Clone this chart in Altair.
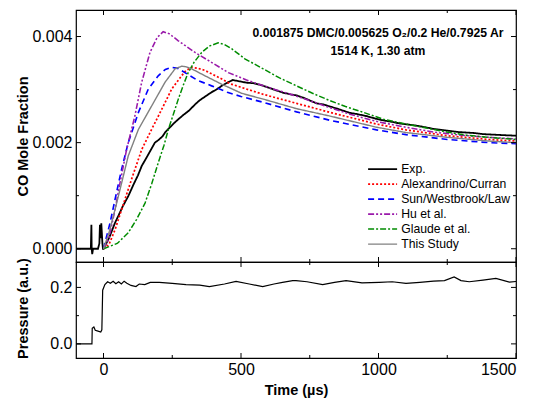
import altair as alt
import pandas as pd

FONT = "Liberation Sans"

series_names = ["Exp.", "Alexandrino/Curran", "Sun/Westbrook/Law", "Hu et al.", "Glaude et al.", "This Study"]
series_colors = ["#000000", "#ff0000", "#0000ff", "#9a1aaa", "#008c00", "#808080"]
series_dash = [[1, 0], [2, 2], [6, 4], [6, 2, 2, 2, 2, 2], [6, 2, 2, 2], [1, 0]]
series_width = [1.8, 1.4, 1.6, 1.4, 1.2, 1.4]

exp_t = [-100, -50, -46, -44, -43, -41, -38, -20, -15, -13, -11, -8, -6, -4, -2, 0,
         10, 20, 30, 42, 55, 70, 90, 110, 125, 139, 160, 187, 200, 215, 225, 240, 255,
         272, 290, 310, 333, 350, 370, 393, 410, 430, 454, 470, 480, 500, 520, 545, 570,
         593, 620, 654, 680, 702, 730, 775, 800, 824, 850, 896, 920, 957, 990, 1017, 1050,
         1078, 1110, 1138, 1170, 1199, 1230, 1260, 1290, 1320, 1350, 1381, 1420, 1460, 1500]
exp_v = [0, 0, 0, 0.00045, 0, -0.0001, 0, 0, 0.0001, 0.00045, 0.0002, 0.00048, 0.0003, 0.0001, 0, 0,
         0.0001, 0.0002, 0.00033, 0.00049, 0.00063, 0.0008, 0.00099, 0.00122, 0.00138, 0.00156, 0.00175,
         0.002, 0.00205, 0.00212, 0.0022, 0.00228, 0.00236, 0.00244, 0.00252, 0.0026, 0.00272, 0.0028,
         0.00287, 0.00295, 0.003, 0.00307, 0.00314, 0.00318, 0.00317, 0.00315, 0.00313, 0.00312, 0.00309,
         0.00305, 0.003, 0.00294, 0.00291, 0.00289, 0.00284, 0.00274, 0.00272, 0.00268, 0.00264, 0.00256,
         0.00254, 0.0025, 0.00245, 0.00242, 0.00239, 0.00236, 0.00234, 0.00232, 0.00229, 0.00226, 0.00224,
         0.00222, 0.0022, 0.00219, 0.00218, 0.00216, 0.00215, 0.00214, 0.00213]

alex_t = [0, 20, 42, 66, 102, 139, 175, 212, 248, 284, 300, 321, 345, 369, 430, 460, 502, 581, 702, 824, 993, 1100, 1250, 1400, 1500]
alex_v = [0, 0.00008, 0.00036, 0.00074, 0.00131, 0.00187, 0.00225, 0.00263, 0.00301, 0.00326, 0.00336, 0.00342,
          0.0034, 0.00336, 0.0032, 0.00311, 0.00304, 0.00291, 0.00274, 0.00257, 0.00235, 0.00224, 0.00213, 0.00206, 0.00203]

sun_t = [0, 24, 42, 66, 90, 127, 163, 199, 225, 248, 270, 296, 340, 393, 450, 500, 581, 702, 824, 993, 1100, 1250, 1400, 1500]
sun_v = [0, 0.00049, 0.00093, 0.0015, 0.002, 0.00257, 0.00301, 0.00326, 0.00338, 0.00342, 0.0034, 0.00332,
         0.00318, 0.00307, 0.00295, 0.00287, 0.00276, 0.00258, 0.00242, 0.00224, 0.00215, 0.00206, 0.002, 0.00198]

hu_t = [0, 20, 42, 60, 84, 114, 139, 169, 195, 217, 240, 272, 333, 381, 454, 520, 600, 700, 800, 900, 1000, 1100, 1200, 1300, 1400, 1500]
hu_v = [0, 0.0002, 0.00074, 0.00124, 0.00187, 0.0025, 0.00314, 0.0037, 0.00398, 0.00409, 0.00405, 0.00392,
        0.0037, 0.00355, 0.00332, 0.00318, 0.00304, 0.00288, 0.0027, 0.00253, 0.00239, 0.00229, 0.0022, 0.00214, 0.0021, 0.00207]

glaude_t = [0, 50, 90, 120, 151, 175, 199, 220, 236, 255, 272, 290, 308, 330, 357, 385, 417, 440, 466, 514, 581,
            640, 702, 760, 824, 880, 945, 1018, 1100, 1170, 1248, 1320, 1400, 1500]
glaude_v = [0, 0.0001, 0.0003, 0.00055, 0.00086, 0.00122, 0.00162, 0.00195, 0.00225, 0.00255, 0.00282, 0.00308,
            0.00332, 0.00352, 0.0037, 0.00382, 0.00388, 0.00385, 0.00377, 0.00358, 0.00339, 0.00322, 0.00307,
            0.00293, 0.00279, 0.00268, 0.00257, 0.00244, 0.00235, 0.00228, 0.0022, 0.00214, 0.0021, 0.00206]

study_t = [0, 20, 42, 66, 90, 127, 175, 224, 260, 284, 300, 321, 369, 430, 460, 502, 581, 702, 824, 993, 1100, 1250, 1400, 1500]
study_v = [0, 0.0003, 0.00074, 0.00124, 0.00175, 0.00225, 0.00269, 0.00314, 0.00339, 0.00344, 0.00343, 0.00339,
           0.00326, 0.0031, 0.00303, 0.00293, 0.00282, 0.00264, 0.0025, 0.00229, 0.00219, 0.0021, 0.00203, 0.002]

press_t = [-100, -42, -41, -35, -30, -20, -10, -6, -3, 5, 15, 25, 35, 45, 55, 65, 75, 85, 100, 118, 130, 150, 170,
           203, 250, 300, 350, 385, 440, 482, 530, 579, 620, 651, 688, 700, 740, 797, 840, 882, 940, 1003, 1050,
           1100, 1150, 1200, 1240, 1275, 1300, 1330, 1380, 1427, 1476, 1500]
press_v = [0, 0, 0.055, 0.06, 0.048, 0.045, 0.042, 0.05, 0.19, 0.21, 0.22, 0.215, 0.222, 0.213, 0.22, 0.212, 0.222,
           0.215, 0.207, 0.203, 0.212, 0.21, 0.218, 0.218, 0.214, 0.21, 0.208, 0.203, 0.212, 0.221, 0.212, 0.203,
           0.212, 0.218, 0.224, 0.224, 0.22, 0.21, 0.218, 0.224, 0.216, 0.218, 0.22, 0.214, 0.218, 0.222, 0.224,
           0.237, 0.224, 0.22, 0.226, 0.232, 0.219, 0.221]

x_major = [0, 500, 1000, 1500]
x_minor = [250, 750, 1250]
co_major = [0.0, 0.002, 0.004]
co_minor = [0.001, 0.003]
p_major = [0.0, 0.2]
p_minor = [0.1]

note_line1 = "0.001875 DMC/0.005625 O\u2082/0.2 He/0.7925 Ar"
note_line2 = "1514 K, 1.30 atm"

W = 440
H_TOP = 252
H_BOT = 96
X_DOMAIN = [-100, 1500]
CO_DOMAIN = [-0.00025, 0.0045]
P_DOMAIN = [-0.05, 0.29]

frames = []
for name, tt, vv in zip(series_names,
                        [exp_t, alex_t, sun_t, hu_t, glaude_t, study_t],
                        [exp_v, alex_v, sun_v, hu_v, glaude_v, study_v]):
    frames.append(pd.DataFrame({"t": tt, "v": vv, "series": name}))
co_df = pd.concat(frames, ignore_index=True)
p_df = pd.DataFrame({"t": press_t, "p": press_v})

xscale = alt.Scale(domain=X_DOMAIN, nice=False, zero=False)
co_scale = alt.Scale(domain=CO_DOMAIN, nice=False, zero=False)
p_scale = alt.Scale(domain=P_DOMAIN, nice=False, zero=False)

co_axis = alt.Axis(values=co_major, format=".3f", ticks=False, domain=False, grid=False,
                   labelPadding=4, title="CO Mole Fraction", titleX=-46)
p_axis = alt.Axis(values=p_major, format=".1f", ticks=False, domain=False, grid=False,
                  labelPadding=4, title="Pressure (a.u.)", titleX=-46, titleY=46)
t_axis = alt.Axis(values=x_major, format="d", ticks=False, domain=False, grid=False,
                  labelPadding=3, title="Time (\u00b5s)", titlePadding=6)

# custom horizontal stroke symbol, 29 px long at symbolSize 100 (path scaled by sqrt(size)/2)
leg = alt.Legend(orient="none", legendX=300.5, legendY=153, title=None, symbolType="M-2.9,0H2.9",
                 symbolSize=100, rowPadding=2, labelFont=FONT, labelFontSize=12.2,
                 labelColor="black", labelOffset=12.5, padding=0)

lines = alt.Chart(co_df).mark_line(clip=True).encode(
    x=alt.X("t:Q", scale=xscale, axis=None),
    y=alt.Y("v:Q", scale=co_scale, axis=co_axis),
    color=alt.Color("series:N", scale=alt.Scale(domain=series_names, range=series_colors), legend=leg),
    strokeDash=alt.StrokeDash("series:N", scale=alt.Scale(domain=series_names, range=series_dash), legend=leg),
    strokeWidth=alt.StrokeWidth("series:N", scale=alt.Scale(domain=series_names, range=series_width), legend=leg),
)


def xticks(H, axis):
    out = []
    for vals, L in [(x_major, 5), (x_minor, 3)]:
        df = pd.DataFrame({"t": vals})
        out.append(alt.Chart(df).mark_rule(color="black", strokeWidth=1).encode(
            x=alt.X("t:Q", scale=xscale, axis=axis), y=alt.value(H), y2=alt.value(H - L)))
        out.append(alt.Chart(df).mark_rule(color="black", strokeWidth=1).encode(
            x=alt.X("t:Q", scale=xscale, axis=axis), y=alt.value(0), y2=alt.value(L)))
    return out


def yticks(majors, minors, scale, field, axis):
    out = []
    for vals, L in [(majors, 5), (minors, 3)]:
        df = pd.DataFrame({field: vals})
        out.append(alt.Chart(df).mark_rule(color="black", strokeWidth=1).encode(
            y=alt.Y(f"{field}:Q", scale=scale, axis=axis), x=alt.value(0), x2=alt.value(L)))
        out.append(alt.Chart(df).mark_rule(color="black", strokeWidth=1).encode(
            y=alt.Y(f"{field}:Q", scale=scale, axis=axis), x=alt.value(W), x2=alt.value(W - L)))
    return out


note1 = alt.Chart(pd.DataFrame({"label": [note_line1]})).mark_text(
    font=FONT, fontSize=12.2, fontWeight="bold", color="black", align="center", baseline="middle"
).encode(text="label:N", x=alt.value(302), y=alt.value(23))
note2 = alt.Chart(pd.DataFrame({"label": [note_line2]})).mark_text(
    font=FONT, fontSize=12.2, fontWeight="bold", color="black", align="center", baseline="middle"
).encode(text="label:N", x=alt.value(302), y=alt.value(41))

top = alt.layer(lines, *xticks(H_TOP, None), *yticks(co_major, co_minor, co_scale, "v", co_axis),
                note1, note2).properties(width=W, height=H_TOP)

pline = alt.Chart(p_df).mark_line(color="black", strokeWidth=1.2, clip=True).encode(
    x=alt.X("t:Q", scale=xscale, axis=t_axis),
    y=alt.Y("p:Q", scale=p_scale, axis=p_axis),
)

bottom = alt.layer(pline, *xticks(H_BOT, t_axis), *yticks(p_major, p_minor, p_scale, "p", p_axis)).properties(
    width=W, height=H_BOT)

chart = alt.vconcat(top, bottom, spacing=0, bounds="flush").properties(
    padding={"left": 6, "top": 0, "right": 10, "bottom": 0}, background="white"
).configure_view(stroke="black", strokeWidth=1.2).configure_axis(
    labelFont=FONT, titleFont=FONT, labelFontSize=16, titleFontSize=14.5, titleFontWeight="bold",
    labelColor="black", titleColor="black"
)

chart.save("out.html", embed_options={"renderer": "svg", "actions": False})
